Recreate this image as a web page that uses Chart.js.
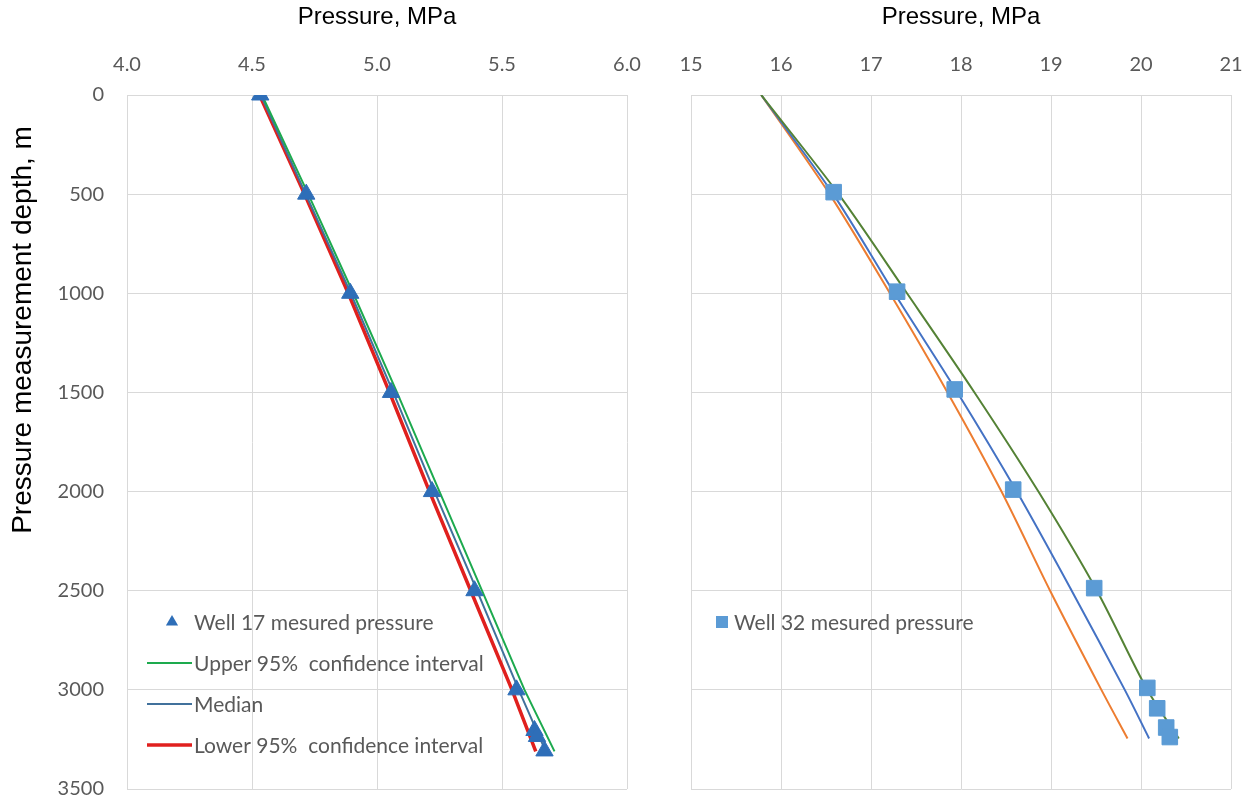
<!DOCTYPE html>
<html>
<head>
<meta charset="utf-8">
<script src="https://cdn.jsdelivr.net/npm/chart.js@4.4.1/dist/chart.umd.min.js"></script>
<style>
  html, body { margin: 0; padding: 0; background: #fff; }
  #wrap { position: relative; width: 1258px; height: 802px; overflow: hidden; }
  #left { position: absolute; left: 0; top: 0; }
  #right { position: absolute; left: 655px; top: 0; }
</style>
</head>
<body>
<div id="wrap">
  <canvas id="left" width="650" height="802"></canvas>
  <canvas id="right" width="603" height="802"></canvas>
</div>
<script>
// Well 17 (left panel)
const well17Pressure = [4.533, 4.717, 4.893, 5.056, 5.22, 5.39, 5.558, 5.63, 5.64, 5.67];
const well17Depth = [0, 500, 1000, 1500, 2000, 2500, 3000, 3205, 3235, 3308];
const curveDepth17 = [0, 500, 1000, 1500, 2000, 2500, 3000, 3310];
const upper17 = [4.54, 4.725, 4.905, 5.08, 5.25, 5.42, 5.59, 5.71];
const median17 = [4.535, 4.715, 4.895, 5.065, 5.23, 5.40, 5.567, 5.675];
const lower17 = [4.53, 4.71, 4.885, 5.05, 5.21, 5.375, 5.54, 5.635];

// Well 32 (right panel)
const well32Pressure = [16.585, 17.29, 17.93, 18.58, 19.48, 20.07, 20.18, 20.28, 20.32];
const well32Depth = [490, 992, 1485, 1990, 2487, 2990, 3093, 3190, 3238];
const curveDepth32 = [0, 500, 1000, 1500, 2000, 2500, 3000, 3245];
const upper32 = [15.78, 16.64, 17.40, 18.15, 18.86, 19.51, 20.07, 20.42];
const median32 = [15.78, 16.58, 17.26, 17.96, 18.62, 19.23, 19.82, 20.09];
const lower32 = [15.78, 16.54, 17.21, 17.85, 18.45, 18.99, 19.56, 19.85];

const xTitle = "Pressure, MPa";
const yTitle = "Pressure measurement depth, m";

const GRID = "#D9D9D9";
const TICK = "#595959";
const tickFont = { family: "Lato", size: 20 };

const pts = (xs, ys) => xs.map((x, i) => ({ x: x, y: ys[i] }));

// legend drawn inside the plot, like the Excel one
const insideLegend = {
  id: "insideLegend",
  afterDraw(chart, args, opts) {
    const ctx = chart.ctx;
    ctx.save();
    ctx.font = opts.font;
    ctx.textBaseline = "middle";
    opts.items.forEach((idx, k) => {
      const ds = chart.data.datasets[idx];
      const y = opts.y + k * opts.gap;
      if (ds.showLine) {
        ctx.strokeStyle = ds.borderColor;
        ctx.lineWidth = ds.borderWidth;
        ctx.beginPath();
        ctx.moveTo(opts.x0, y);
        ctx.lineTo(opts.x1, y);
        ctx.stroke();
      } else if (ds.pointStyle === "triangle") {
        const r = 7;
        ctx.fillStyle = ds.backgroundColor;
        ctx.beginPath();
        ctx.moveTo(opts.mx, y - r);
        ctx.lineTo(opts.mx + r * 0.87, y + r * 0.5);
        ctx.lineTo(opts.mx - r * 0.87, y + r * 0.5);
        ctx.closePath();
        ctx.fill();
      } else {
        ctx.fillStyle = ds.backgroundColor;
        ctx.fillRect(opts.mx - 6, y - 6, 12, 12);
      }
      ctx.fillStyle = TICK;
      ctx.fillText(ds.label, opts.tx, y + 1);
    });
    // depth axis title (placed by hand, as in the source)
    if (opts.yTitle) {
      ctx.translate(opts.yTitle.x, opts.yTitle.y);
      ctx.rotate(-Math.PI / 2);
      ctx.font = opts.yTitle.font;
      ctx.fillStyle = "#000";
      ctx.textAlign = "center";
      ctx.fillText(yTitle, 0, 0);
    }
    ctx.restore();
  }
};

// tick marks are invisible; their length just pushes the labels off the plot
// (tick padding would also pad the chart area, which we don't want)
function makeOptions(xMin, xMax, xStep, xFmt, yWidth, showY, padRight, legend) {
  return {
    responsive: false,
    animation: false,
    layout: { padding: { top: 0, right: padRight, bottom: 13, left: 0 } },
    plugins: {
      legend: { display: false },
      tooltip: { enabled: false },
      insideLegend: legend
    },
    scales: {
      x: {
        type: "linear",
        position: "top",
        min: xMin, max: xMax,
        afterFit: s => { s.height = 95; },
        ticks: { stepSize: xStep, color: TICK, font: tickFont, padding: 0, callback: xFmt },
        grid: { color: GRID, drawTicks: true, tickLength: 18, tickColor: "rgba(0,0,0,0)" },
        border: { color: GRID },
        title: { display: true, text: xTitle, color: "#000", font: { family: "Liberation Sans", size: 24 }, padding: { top: 3, bottom: 0 } }
      },
      y: {
        type: "linear",
        reverse: true,
        min: 0, max: 3500,
        afterFit: s => { s.width = yWidth; },
        ticks: { display: showY, stepSize: 500, color: TICK, font: tickFont, padding: 0, callback: v => String(v) },
        grid: { color: GRID, drawTicks: true, tickLength: 23, tickColor: "rgba(0,0,0,0)" },
        border: { color: GRID }
      }
    }
  };
}

new Chart(document.getElementById("left"), {
  type: "scatter",
  data: {
    datasets: [
      { label: "Well 17 mesured pressure", data: pts(well17Pressure, well17Depth),
        pointStyle: "triangle", pointRadius: 10, backgroundColor: "#2E6EB8", borderColor: "#2E6EB8", showLine: false },
      { label: "Upper 95%  confidence interval", data: pts(upper17, curveDepth17),
        showLine: true, borderColor: "#1DAA4E", borderWidth: 2, pointRadius: 0, tension: 0 },
      { label: "Median", data: pts(median17, curveDepth17),
        showLine: true, borderColor: "#41719C", borderWidth: 2, pointRadius: 0, tension: 0 },
      { label: "Lower 95%  confidence interval", data: pts(lower17, curveDepth17),
        showLine: true, borderColor: "#E0201E", borderWidth: 3.5, pointRadius: 0, tension: 0 }
    ]
  },
  options: makeOptions(4, 6, 0.5, v => v.toFixed(1), 127, true, 23,
    { items: [0, 1, 2, 3], x0: 147, x1: 192, mx: 172, tx: 194, y: 622, gap: 41, font: "21px Lato",
      yTitle: { x: 23, y: 330, font: "28px Liberation Sans" } }),
  plugins: [insideLegend]
});

new Chart(document.getElementById("right"), {
  type: "scatter",
  data: {
    datasets: [
      { label: "Well 32 mesured pressure", data: pts(well32Pressure, well32Depth),
        pointStyle: "rect", pointRadius: 11, backgroundColor: "#5B9BD5", borderColor: "#5B9BD5", showLine: false },
      { label: "Upper", data: pts(upper32, curveDepth32),
        showLine: true, borderColor: "#548235", borderWidth: 2, pointRadius: 0, tension: 0.3 },
      { label: "Median", data: pts(median32, curveDepth32),
        showLine: true, borderColor: "#4472C4", borderWidth: 2, pointRadius: 0, tension: 0.3 },
      { label: "Lower", data: pts(lower32, curveDepth32),
        showLine: true, borderColor: "#ED7D31", borderWidth: 2, pointRadius: 0, tension: 0.3 }
    ]
  },
  options: makeOptions(15, 21, 1, v => v, 36, false, 27,
    { items: [0], x0: 0, x1: 0, mx: 67, tx: 79, y: 622, gap: 41, font: "21px Lato" }),
  plugins: [insideLegend]
});
</script>
</body>
</html>
